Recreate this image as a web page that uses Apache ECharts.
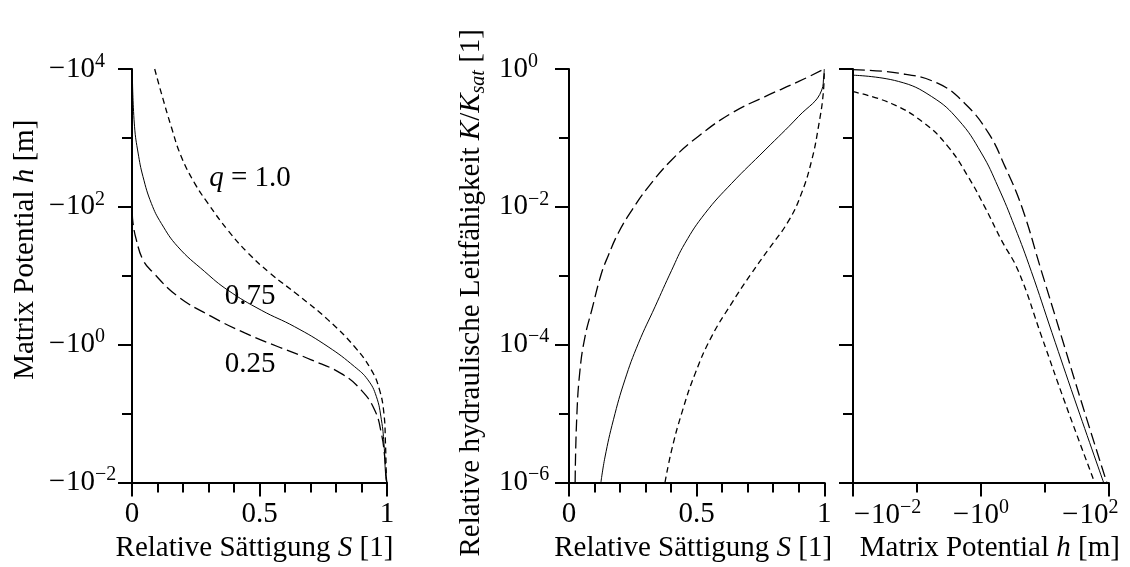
<!DOCTYPE html>
<html><head><meta charset="utf-8">
<script src="https://cdn.jsdelivr.net/npm/echarts@6/dist/echarts.min.js"></script>
<style>html,body{margin:0;padding:0;background:#fff}#c{width:1130px;height:567px}</style>
</head><body><div id="c"></div>
<script>
// ---------- Panel 1: retention curves  h(S) ----------
const S_ret_q100 = [0.089, 0.115, 0.154, 0.193, 0.246, 0.298, 0.376, 0.455, 0.540, 0.651, 0.769, 0.873, 0.939, 0.971, 0.988, 0.994, 0.998, 1.0];
const h_ret_q100 = [-10000, -4470, -1450, -537, -219, -112, -45.7, -21.4, -11.0, -5.25, -2.29, -0.933, -0.427, -0.219, -0.100, -0.0372, -0.0107, -0.0100];
const S_ret_q075 = [0.002, 0.010, 0.024, 0.043, 0.076, 0.115, 0.180, 0.285, 0.376, 0.507, 0.638, 0.769, 0.873, 0.925, 0.958, 0.978, 0.988, 0.995, 1.0];
const h_ret_q075 = [-6310, -1450, -603, -275, -112, -57.5, -26.3, -11.5, -6.17, -3.16, -1.82, -0.933, -0.479, -0.309, -0.178, -0.0813, -0.0372, -0.0123, -0.0100];
const S_ret_q025 = [0.001, 0.004, 0.017, 0.043, 0.079, 0.180, 0.311, 0.442, 0.573, 0.703, 0.821, 0.899, 0.952, 0.978, 0.991, 0.998, 1.0];
const h_ret_q025 = [-81.3, -57.5, -33.1, -17.0, -11.5, -5.01, -2.57, -1.48, -0.933, -0.603, -0.380, -0.219, -0.112, -0.0513, -0.0234, -0.0107, -0.0100];

// ---------- Panel 2: relative conductivity K/Ksat(S) ----------
const S_con_q100 = [0.376, 0.402, 0.441, 0.494, 0.559, 0.637, 0.709, 0.781, 0.860, 0.911, 0.951, 0.977, 0.996, 1.0];
const K_con_q100 = [1e-6, 2.95e-6, 1e-5, 3.80e-5, 1.32e-4, 3.98e-4, 1.01e-3, 2.40e-3, 6.24e-3, 0.0158, 0.0479, 0.145, 0.447, 1];
const S_con_q075 = [0.125, 0.141, 0.174, 0.219, 0.272, 0.337, 0.402, 0.454, 0.533, 0.637, 0.768, 0.898, 0.990, 0.998, 1.0];
const K_con_q075 = [1e-6, 2.34e-6, 8.13e-6, 3.09e-5, 1.05e-4, 3.55e-4, 1.20e-3, 2.95e-3, 8.05e-3, 0.0219, 0.0668, 0.203, 0.495, 0.80, 1];
const S_con_q025 = [0.024, 0.030, 0.043, 0.063, 0.089, 0.126, 0.154, 0.193, 0.246, 0.311, 0.402, 0.506, 0.637, 0.768, 0.898, 1.0];
const K_con_q025 = [1e-6, 8.13e-6, 4.27e-5, 1.32e-4, 3.16e-4, 1.05e-3, 1.97e-3, 4.17e-3, 8.91e-3, 0.0195, 0.0479, 0.105, 0.229, 0.398, 0.655, 1];

// ---------- Panel 3: relative conductivity K/Ksat(h) ----------
const h_rel_q100 = [-0.01, -0.0398, -0.132, -0.309, -0.631, -1.15, -2.09, -3.89, -8.91, -20.9, -60.3];
const K_rel_q100 = [0.468, 0.316, 0.162, 0.0741, 0.0275, 0.01, 3.31e-3, 1.15e-3, 1.32e-4, 1.41e-5, 1e-6];
const h_rel_q075 = [-0.01, -0.0513, -0.170, -0.447, -1.02, -1.86, -3.39, -6.17, -12.9, -29.5, -83.2];
const K_rel_q075 = [0.813, 0.661, 0.398, 0.182, 0.0603, 0.0195, 5.13e-3, 1.15e-3, 1.51e-4, 1.58e-5, 1e-6];
const h_rel_q025 = [-0.01, -0.0513, -0.214, -0.562, -1.32, -2.40, -4.37, -8.91, -18.2, -38.0, -93.3];
const K_rel_q025 = [0.977, 0.871, 0.617, 0.316, 0.117, 0.038, 0.01, 1.15e-3, 1.32e-4, 1.41e-5, 1e-6];

// ---------- Curve annotations (panel 1, data coordinates) ----------
const curveLabels = ['{i|q}{t| = 1.0}', '{t|0.75}', '{t|0.25}'];
const curveLabelS = [0.463, 0.463, 0.463];
const curveLabelH = [-263, -5.08, -0.525];

// ---------- Axis texts ----------
const xTitleS = 'Relative Sättigung {i|S} [1]';
const hTitle = 'Matrix Potential {i|h} [m]';
const kTitle = 'Relative hydraulische Leitfähigkeit {i|K}/{i|K}{sub|sat} [1]';

const FONT = 'Liberation Serif';
const FS = 29, FSS = 20;
const lg = v => Math.log10(Math.abs(v));

const richBase = {
  m: {fontFamily: FONT, fontSize: FS, color: '#000', lineHeight: 32, padding: [0, 1, 0, 0]},
  b: {fontFamily: FONT, fontSize: FS, color: '#000', lineHeight: 32},
  s: {fontFamily: FONT, fontSize: FSS, color: '#000', lineHeight: 20, padding: [0, 0, 15, 0]},
  ym: {fontFamily: FONT, fontSize: FS, color: '#000', lineHeight: 32, align: 'left', padding: [0, 1, 0, 0]},
  yb: {fontFamily: FONT, fontSize: FS, color: '#000', lineHeight: 32, align: 'left'},
  ysw: {fontFamily: FONT, fontSize: FSS, color: '#000', lineHeight: 20, padding: [0, 0, 15, 0], width: 22, align: 'left'},
  i: {fontFamily: FONT, fontSize: FS, color: '#000', fontStyle: 'italic', lineHeight: 32},
  t: {fontFamily: FONT, fontSize: FS, color: '#000', lineHeight: 32},
  sub: {fontFamily: FONT, fontSize: FSS, color: '#000', fontStyle: 'italic', lineHeight: 20, padding: [15, 0, 0, 0]},
  g1: {fontFamily: FONT, fontSize: FS, width: 69, lineHeight: 32},
  g2: {fontFamily: FONT, fontSize: FS, width: 37, lineHeight: 32}
};
const nameStyle = (pad) => ({fontFamily: FONT, fontSize: FS, color: '#000', lineHeight: 32, padding: pad, rich: richBase});

const expStr = e => (e < 0 ? '\u2212' : '') + Math.abs(e);
const yExpLabel = neg => v => { const e = Math.round(v); return (neg ? '{ym|\u2212}' : '') + '{yb|10}{ysw|' + expStr(e) + '}'; };
const hxLabel = v => {
  const e = Math.round(v);
  const s = '{m|\u2212}{b|10}{s|' + expStr(e) + '}';
  if (e === -2) return '{g1| }' + s;
  if (e === 2) return s + '{g2| }';
  return s;
};

const lineAx = {show: true, onZero: false, lineStyle: {color: '#000', width: 2}};
const noLine = {show: false, onZero: false};
const tick = len => ({show: true, length: len, lineStyle: {color: '#000', width: 2}});

function xPair(grid, min, max, minorInt, majorInt, name, namePad, fmt) {
  return [
    {gridIndex: grid, type: 'value', position: 'bottom', min, max, interval: minorInt,
     axisLine: lineAx, axisTick: tick(10), axisLabel: {show: false}, splitLine: {show: false},
     name, nameLocation: 'middle', nameGap: 50, nameTextStyle: nameStyle(namePad)},
    {gridIndex: grid, type: 'value', position: 'bottom', min, max, interval: majorInt,
     axisLine: noLine, axisTick: tick(14), splitLine: {show: false},
     axisLabel: {show: true, margin: 17, fontFamily: FONT, fontSize: FS, color: '#000', formatter: fmt, rich: richBase}}
  ];
}
function yPair(grid, min, max, name, nameGap, namePad, fmt, margin) {
  return [
    {gridIndex: grid, type: 'value', position: 'left', min, max, interval: 1,
     axisLine: lineAx, axisTick: tick(10), axisLabel: {show: false}, splitLine: {show: false},
     name: name || '', nameLocation: 'middle', nameGap: nameGap || 0, nameTextStyle: nameStyle(namePad || 0)},
    {gridIndex: grid, type: 'value', position: 'left', min, max, interval: 2,
     axisLine: noLine, axisTick: tick(14), splitLine: {show: false},
     axisLabel: {show: !!fmt, margin: margin || 8, fontFamily: FONT, fontSize: FS, color: '#000', formatter: fmt || '', rich: richBase}}
  ];
}

const sFmt = v => String(Math.round(v * 10) / 10);

const xAxes = [].concat(
  xPair(0, 0, 1, 0.1, 0.5, xTitleS, [0, 10, 0, 0], sFmt),
  xPair(1, 0, 1, 0.1, 0.5, xTitleS, [0, 7, 0, 0], sFmt),
  xPair(2, -2, 2, 1, 2, hTitle, [0, 0, 0, 18], hxLabel)
);
const yAxes = [].concat(
  yPair(0, -2, 4, hTitle, 91, [0, 0, 0, 52], yExpLabel(true), 15),
  yPair(1, -6, 0, kTitle, 82, [0, 34, 0, 0], yExpLabel(false), 19),
  yPair(2, -6, 0, '', 0, 0, null, 8)
);

const zip = (xs, ys, fx, fy) => xs.map((x, i) => [fx(x), fy(ys[i])]);
const id = v => v;
const styles = {
  q100: {color: '#000', width: 1.3, type: [6, 4]},
  q075: {color: '#000', width: 1, type: 'solid'},
  q025: {color: '#000', width: 1.3, type: [12, 5]}
};
function line(name, xi, data, st) {
  return {type: 'line', name, xAxisIndex: xi, yAxisIndex: xi, data, showSymbol: false, symbol: 'none',
          smooth: 0.45, lineStyle: st, silent: true, z: 3};
}

const series = [
  line('q=1.0', 0, zip(S_ret_q100, h_ret_q100, id, lg), styles.q100),
  line('q=0.75', 0, zip(S_ret_q075, h_ret_q075, id, lg), styles.q075),
  line('q=0.25', 0, zip(S_ret_q025, h_ret_q025, id, lg), styles.q025),
  line('q=1.0', 2, zip(S_con_q100, K_con_q100, id, lg), styles.q100),
  line('q=0.75', 2, zip(S_con_q075, K_con_q075, id, lg), styles.q075),
  line('q=0.25', 2, zip(S_con_q025, K_con_q025, id, lg), styles.q025),
  line('q=1.0', 4, zip(h_rel_q100, K_rel_q100, lg, lg), styles.q100),
  line('q=0.75', 4, zip(h_rel_q075, K_rel_q075, lg, lg), styles.q075),
  line('q=0.25', 4, zip(h_rel_q025, K_rel_q025, lg, lg), styles.q025),
  {type: 'line', xAxisIndex: 0, yAxisIndex: 0, silent: true, z: 5,
   symbol: 'circle', symbolSize: 1, showSymbol: true,
   itemStyle: {color: 'rgba(0,0,0,0)', opacity: 1},
   lineStyle: {width: 0, opacity: 0},
   data: curveLabels.map((t, i) => ({value: [curveLabelS[i], lg(curveLabelH[i])], txt: t})),
   label: {show: true, position: 'inside', color: '#000', opacity: 1,
           textBorderWidth: 0, textBorderColor: 'transparent', rich: richBase,
           formatter: p => p.data.txt}}
];

const chart = echarts.init(document.getElementById('c'), null, {renderer: 'canvas'});
chart.setOption({
  animation: false,
  backgroundColor: '#fff',
  grid: [
    {left: 132, top: 69, width: 255, height: 413.5, containLabel: false, outerBoundsMode: 'none'},
    {left: 569, top: 69, width: 255.3, height: 413.5, containLabel: false, outerBoundsMode: 'none'},
    {left: 853, top: 69, width: 255.7, height: 413.5, containLabel: false, outerBoundsMode: 'none'}
  ],
  xAxis: xAxes,
  yAxis: yAxes,
  series
});
</script></body></html>
